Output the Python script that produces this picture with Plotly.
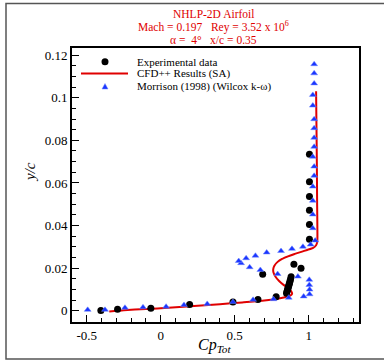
import plotly.graph_objects as go

# ---------------- data ----------------
exp_x = [-0.405, -0.292, -0.067, 0.195, 0.488, 0.657, 0.780, 0.850, 0.853, 0.856, 0.859,
         0.862, 0.865, 0.868, 0.871, 0.874, 0.877, 0.881, 0.689, 0.900, 0.948,
         1.005, 1.005, 1.005, 1.005, 1.005, 1.005]
exp_y = [0.0002, 0.0008, 0.0013, 0.0030, 0.0042, 0.0054, 0.0067, 0.0083, 0.0090, 0.0097, 0.0104,
         0.0111, 0.0118, 0.0125, 0.0132, 0.0140, 0.0148, 0.0160, 0.0172, 0.0219, 0.0200,
         0.0336, 0.0405, 0.0472, 0.0536, 0.0606, 0.0735]

cfd_x = [-0.348, -0.25, -0.10, 0.0, 0.2, 0.4, 0.55, 0.70, 0.78, 0.84, 0.875, 0.888, 0.882,
         0.862, 0.83, 0.80, 0.776, 0.762, 0.760, 0.768, 0.790, 0.82, 0.86, 0.90, 0.95, 0.99,
         1.03, 1.050, 1.058, 1.059, 1.057, 1.055, 1.052, 1.050]
cfd_y = [-0.0003, 0.0003, 0.0009, 0.0012, 0.0022, 0.0031, 0.0040, 0.0049, 0.0056, 0.0064, 0.0072,
         0.0080, 0.0092, 0.0106, 0.0122, 0.0140, 0.0160, 0.0180, 0.0195, 0.0212, 0.0230, 0.0244,
         0.0256, 0.0266, 0.0277, 0.0286, 0.0296, 0.0308, 0.0325, 0.0360, 0.0500, 0.0700, 0.0900, 0.1030]

mor_x = [-0.494, -0.377, -0.242, -0.120, 0.036, 0.157, 0.314, 0.488, 0.624, 0.762, 0.865, 0.966,
         1.006, 1.006, 1.004, 1.004, 0.927, 0.790, 0.673, 0.601, 0.543, 0.527, 0.577, 0.640,
         0.716, 0.813, 0.887, 0.961, 1.013, 1.044,
         1.028, 1.028, 1.028, 1.028, 1.037, 1.037, 1.028, 1.037, 1.037, 1.037, 1.037, 1.028,
         1.028, 1.037, 1.037, 1.037]
mor_y = [0.0005, 0.0005, 0.0015, 0.0017, 0.0020, 0.0028, 0.0033, 0.0042, 0.0052, 0.0055, 0.0062, 0.0068,
         0.0078, 0.0100, 0.0122, 0.0146, 0.0161, 0.0173, 0.0192, 0.0205, 0.0224, 0.0234, 0.0247, 0.0259,
         0.0274, 0.0281, 0.0291, 0.0301, 0.0311, 0.0330,
         0.0388, 0.0452, 0.0517, 0.0583, 0.0634, 0.0677, 0.0723, 0.0770, 0.0812, 0.0857, 0.0899, 0.0963,
         0.1013, 0.1067, 0.1114, 0.1157]

x_tickvals = [-0.5, 0, 0.5, 1]
x_ticktext = ["-0.5", "0", "0.5", "1"]
y_tickvals = [0, 0.02, 0.04, 0.06, 0.08, 0.1, 0.12]
y_ticktext = ["0", "0.02", "0.04", "0.06", "0.08", "0.1", "0.12"]

legend_names = ["Experimental data", "CFD++ Results (SA)", "Morrison (1998) (Wilcox k-\u03c9)"]
title_lines = ["NHLP-2D Airfoil",
               "Mach = 0.197   Rey = 3.52 x 10<sup>6</sup>",
               "\u03b1 =  4\u00b0   x/c = 0.35"]

# ---------------- style ----------------
W, H = 384, 363
L, R, T, B = 72, 25, 48, 41
PW, PH = W - L - R, H - T - B
FONT = "Liberation Serif, Times New Roman, serif"
RED = "#e00000"
BLUE = "#1a35ff"


def px(xp):
    return (xp - L) / PW


def py(yp):
    return (H - B - yp) / PH


fig = go.Figure()
fig.add_trace(go.Scatter(x=cfd_x, y=cfd_y, mode="lines", name=legend_names[1],
                         line=dict(color=RED, width=2, shape="spline", smoothing=0.6)))
fig.add_trace(go.Scatter(x=exp_x, y=exp_y, mode="markers", name=legend_names[0],
                         marker=dict(symbol="circle", size=7, color="black")))
fig.add_trace(go.Scatter(x=mor_x, y=mor_y, mode="markers", name=legend_names[2],
                         marker=dict(symbol="triangle-up", size=6, color=BLUE,
                                     line=dict(width=0.5, color="#6f86ff"))))

axis_common = dict(showline=True, linecolor="black", linewidth=2, mirror=True,
                   ticks="inside", ticklen=7, tickwidth=1, tickcolor="black",
                   showgrid=False, zeroline=False,
                   tickfont=dict(family=FONT, size=13, color="black"))

fig.update_xaxes(range=[-0.6, 1.34], tickmode="array", tickvals=x_tickvals, ticktext=x_ticktext,
                 minor=dict(dtick=0.1, tick0=0, ticks="inside", ticklen=4, tickcolor="black"),
                 **axis_common)
fig.update_yaxes(range=[-0.0052, 0.1233], tickmode="array", tickvals=y_tickvals, ticktext=y_ticktext,
                 minor=dict(dtick=0.005, tick0=0, ticks="inside", ticklen=4, tickcolor="black"),
                 **axis_common)

annotations = []
for i, (t, yy) in enumerate(zip(title_lines, [14, 26.5, 40])):
    annotations.append(dict(text=t, xref="paper", yref="paper", x=px(213.5), y=py(yy),
                            xanchor="center", yanchor="middle", showarrow=False,
                            font=dict(family=FONT, size=11.5, color=RED)))
# legend texts
for name, yy in zip(legend_names, [61.7, 73.5, 86.5]):
    annotations.append(dict(text=name, xref="paper", yref="paper", x=px(135), y=py(yy),
                            xanchor="left", yanchor="middle", showarrow=False,
                            font=dict(family=FONT, size=11, color="black")))
# axis titles
annotations.append(dict(text="<i>y/c</i>", xref="paper", yref="paper", x=px(30), y=py(172),
                        xanchor="center", yanchor="middle", textangle=-90, showarrow=False,
                        font=dict(family=FONT, size=15, color="black")))
annotations.append(dict(text="<i>Cp</i><sub><i>Tot</i></sub>", xref="paper", yref="paper",
                        x=px(214), y=py(345), xanchor="center", yanchor="middle", showarrow=False,
                        font=dict(family=FONT, size=16, color="black")))

shapes = []
# outer frame
shapes.append(dict(type="rect", xref="paper", yref="paper", x0=px(6), x1=px(386), y0=py(3.5), y1=py(359),
                   line=dict(color="#555555", width=1.5), layer="below"))
# legend symbols
shapes.append(dict(type="circle", xref="paper", yref="paper", xsizemode="pixel", ysizemode="pixel",
                   xanchor=px(105), yanchor=py(61.7), x0=-3.5, x1=3.5, y0=-3.5, y1=3.5,
                   fillcolor="black", line=dict(color="black", width=0)))
shapes.append(dict(type="line", xref="paper", yref="paper", x0=px(81), x1=px(128), y0=py(73.5), y1=py(73.5),
                   line=dict(color=RED, width=2)))
shapes.append(dict(type="path", xref="paper", yref="paper", xsizemode="pixel", ysizemode="pixel",
                   xanchor=px(105), yanchor=py(86.5), path="M -3 -2.5 L 3 -2.5 L 0 3 Z",
                   fillcolor=BLUE, line=dict(color="#6f86ff", width=0.5)))

fig.update_layout(width=W, height=H, margin=dict(l=L, r=R, t=T, b=B),
                  paper_bgcolor="white", plot_bgcolor="white", showlegend=False,
                  annotations=annotations, shapes=shapes,
                  font=dict(family=FONT, color="black"))

fig.write_html("out.html")
